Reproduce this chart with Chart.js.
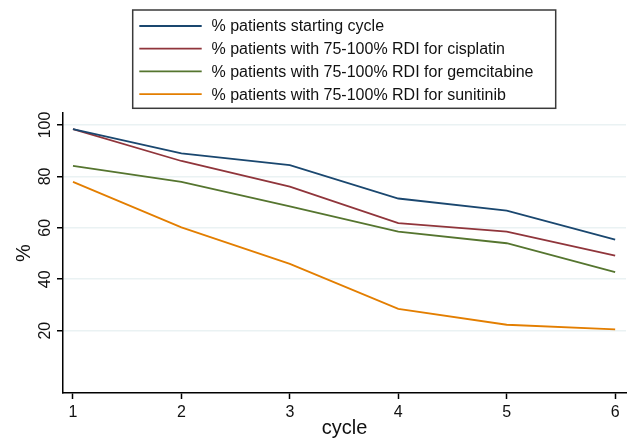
<!DOCTYPE html>
<html>
<head>
  <title>RDI by cycle</title>
  <script src="https://cdn.jsdelivr.net/npm/chart.js"></script>
  <style>
    body { margin: 0; background: #fff; }
  </style>
</head>
<body>
  <canvas id="rdiChart" width="630" height="438"></canvas>

  <script>
    const cycles = [1, 2, 3, 4, 5, 6];
    const xTicks = [1, 2, 3, 4, 5, 6];
    const yTicks = [20, 40, 60, 80, 100];

    const seriesNames = [
      '% patients starting cycle',
      '% patients with 75-100% RDI for cisplatin',
      '% patients with 75-100% RDI for gemcitabine',
      '% patients with 75-100% RDI for sunitinib'
    ];
    const startingCycle = [98.4, 89.0, 84.4, 71.4, 66.7, 55.4];
    const cisplatin = [98.4, 86.0, 76.0, 61.8, 58.5, 49.2];
    const gemcitabine = [84.1, 77.9, 68.3, 58.5, 54.0, 42.8];
    const sunitinib = [77.9, 60.2, 46.0, 28.5, 22.3, 20.5];

    const colors = ['#1a476f', '#90353b', '#55752f', '#e37e00'];
    const FONT = '"Liberation Sans", Arial, sans-serif';

    const toPoints = vals => cycles.map((c, i) => ({ x: c, y: vals[i] }));

    // boxed legend above the plot, built from the datasets
    const boxLegend = {
      id: 'boxLegend',
      afterDraw(chart) {
        const ctx = chart.ctx;
        const sets = chart.data.datasets;
        ctx.save();
        ctx.strokeStyle = '#3a3a3a';
        ctx.lineWidth = 1.5;
        ctx.strokeRect(132.7, 10, 423, 98.3);
        ctx.font = '16px ' + FONT;
        ctx.textBaseline = 'middle';
        ctx.fillStyle = '#111';
        sets.forEach((ds, i) => {
          const y = 26 + i * 22.7;
          ctx.strokeStyle = ds.borderColor;
          ctx.lineWidth = 1.8;
          ctx.beginPath();
          ctx.moveTo(139.3, y);
          ctx.lineTo(201.7, y);
          ctx.stroke();
          ctx.fillText(ds.label, 211.5, y + 1);
        });
        ctx.restore();
      }
    };

    const ctx = document.getElementById('rdiChart').getContext('2d');
    new Chart(ctx, {
      type: 'line',
      data: {
        datasets: [startingCycle, cisplatin, gemcitabine, sunitinib].map((vals, i) => ({
          label: seriesNames[i],
          data: toPoints(vals),
          borderColor: colors[i],
          backgroundColor: colors[i],
          borderWidth: 1.8,
          pointRadius: 0,
          tension: 0,
          fill: false
        }))
      },
      options: {
        responsive: false,
        animation: false,
        layout: { padding: { top: 113, right: 4, left: 0, bottom: 0 } },
        plugins: {
          legend: { display: false },
          tooltip: { enabled: false }
        },
        scales: {
          x: {
            type: 'linear',
            min: 0.908,
            max: 6.10,
            afterBuildTicks: s => { s.ticks = xTicks.map(v => ({ value: v })); },
            afterFit: s => { s.height = 45; },
            border: { display: true, color: '#000', width: 1.5 },
            grid: {
              drawOnChartArea: false,
              drawTicks: true,
              tickLength: 6,
              tickColor: '#000',
              tickWidth: 1.5
            },
            ticks: {
              padding: 4,
              color: '#111',
              font: { family: FONT, size: 16 }
            },
            title: {
              display: true,
              text: 'cycle',
              color: '#111',
              padding: { top: 0, bottom: 0 },
              font: { family: FONT, size: 20, lineHeight: 1 }
            }
          },
          y: {
            min: -4.26,
            max: 104.67,
            afterBuildTicks: s => { s.ticks = yTicks.map(v => ({ value: v })); },
            afterFit: s => { s.width = 63; },
            border: { display: true, color: '#000', width: 1.5 },
            grid: {
              color: '#eaf2f3',
              lineWidth: 1.5,
              drawTicks: true,
              tickLength: 6,
              tickColor: '#000',
              tickWidth: 1.5
            },
            ticks: {
              minRotation: 90,
              maxRotation: 90,
              crossAlign: 'center',
              padding: -2,
              color: '#111',
              font: { family: FONT, size: 16 }
            },
            title: {
              display: true,
              text: '%',
              color: '#111',
              padding: { top: 12, bottom: 0 },
              font: { family: FONT, size: 20, lineHeight: 1.2 }
            }
          }
        }
      },
      plugins: [boxLegend]
    });
  </script>
</body>
</html>
